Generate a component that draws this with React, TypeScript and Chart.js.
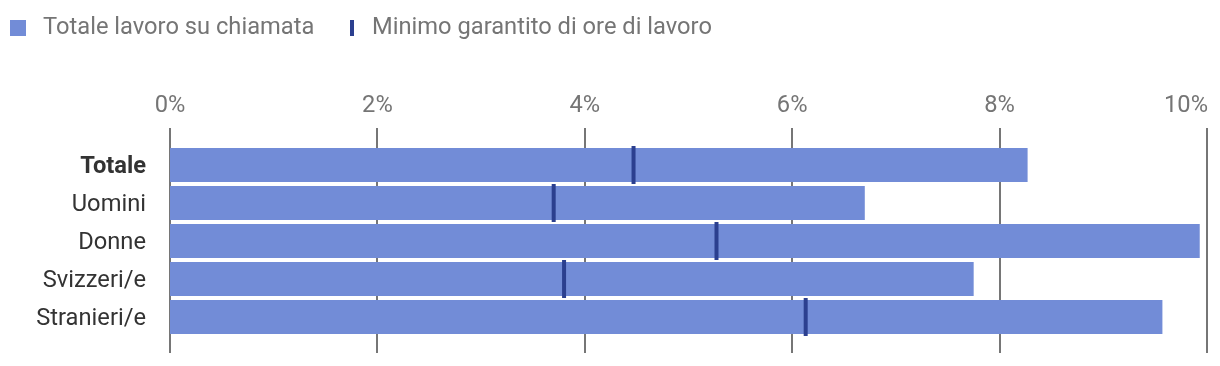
import React, { useEffect, useRef } from "react";
import { Chart, registerables } from "chart.js";

Chart.register(...registerables);

const categories = ["Totale", "Uomini", "Donne", "Svizzeri/e", "Stranieri/e"];
const totalValues = [8.27, 6.7, 9.93, 7.75, 9.57];
const minimumValues = [4.47, 3.7, 5.27, 3.8, 6.13];
const xTickValues = [0, 2, 4, 6, 8, 10];
const xTickLabels = ["0%", "2%", "4%", "6%", "8%", "10%"];
const seriesNames = ["Totale lavoro su chiamata", "Minimo garantito di ore di lavoro"];

const BAR_COLOR = "#728CD7";
const MARK_COLOR = "#2B3F8F";
const GRID_COLOR = "#767676";
const MUTED_TEXT = "#757575";
const DARK_TEXT = "#333333";
const FONT = "Roboto";
const FONT_SIZE = 23.7;

const gridPlugin = {
  id: "customGrid",
  beforeDatasetsDraw(chart: any) {
    const { ctx, chartArea, scales } = chart;
    const x = scales.x;
    ctx.save();
    ctx.strokeStyle = GRID_COLOR;
    ctx.lineWidth = 2;
    xTickValues.forEach((v) => {
      const px = Math.round(x.getPixelForValue(v));
      ctx.beginPath();
      ctx.moveTo(px, chartArea.top - 18);
      ctx.lineTo(px, chartArea.bottom + 17);
      ctx.stroke();
    });
    ctx.font = `${FONT_SIZE}px ${FONT}`;
    ctx.fillStyle = MUTED_TEXT;
    ctx.textBaseline = "alphabetic";
    xTickValues.forEach((v, i) => {
      const px = x.getPixelForValue(v);
      const label = xTickLabels[i];
      const w = ctx.measureText(label).width;
      if (px + w / 2 > chart.width - 4) {
        ctx.textAlign = "right";
        ctx.fillText(label, px + 1, chartArea.top - 34);
      } else {
        ctx.textAlign = "center";
        ctx.fillText(label, px, chartArea.top - 34);
      }
    });
    ctx.restore();
  },
};

export default function App() {
  const canvasRef = useRef<HTMLCanvasElement | null>(null);

  useEffect(() => {
    const canvas = canvasRef.current;
    if (!canvas) return;
    const chart = new Chart(canvas, {
      type: "bar",
      data: {
        labels: categories,
        datasets: [
          {
            type: "scatter",
            label: seriesNames[1],
            data: minimumValues.map((v, i) => ({ x: v, y: categories[i] })) as any,
            pointStyle: "line",
            rotation: 90,
            radius: 19,
            hoverRadius: 19,
            borderWidth: 4,
            hoverBorderWidth: 4,
            borderColor: MARK_COLOR,
            backgroundColor: MARK_COLOR,
            clip: false,
            order: 0,
          } as any,
          {
            type: "bar",
            label: seriesNames[0],
            data: totalValues,
            backgroundColor: BAR_COLOR,
            hoverBackgroundColor: BAR_COLOR,
            borderWidth: 0,
            barPercentage: 34 / 38,
            categoryPercentage: 1,
            order: 1,
          },
        ],
      },
      options: {
        indexAxis: "y",
        animation: false,
        responsive: false,
        maintainAspectRatio: false,
        layout: { autoPadding: false, padding: { top: 146, bottom: 30, left: 0, right: 13 } },
        plugins: {
          legend: { display: false },
          tooltip: { enabled: false },
        },
        scales: {
          x: {
            type: "linear",
            min: 0,
            max: 10,
            display: false,
          },
          y: {
            type: "category",
            labels: categories,
            offset: true,
            grid: { display: false, drawTicks: false },
            border: { display: false },
            ticks: {
              padding: 24,
              labelOffset: 2,
              color: DARK_TEXT,
              font: (c: any) => ({
                family: FONT,
                size: FONT_SIZE,
                weight: c.index === 0 ? "bold" : "normal",
              }),
            },
            afterFit: (scale: any) => {
              scale.width = 170;
              scale.paddingTop = 0;
              scale.paddingBottom = 0;
            },
          },
        },
      },
      plugins: [gridPlugin],
    });
    return () => chart.destroy();
  }, []);

  const legendText: React.CSSProperties = {
    position: "absolute",
    top: 13,
    fontFamily: FONT,
    fontSize: FONT_SIZE,
    lineHeight: "26px",
    color: MUTED_TEXT,
    whiteSpace: "nowrap",
  };

  return (
    <div style={{ position: "fixed", left: 0, top: 0, width: 1220, height: 366, overflow: "hidden", background: "#fff" }}>
      <div style={{ position: "absolute", left: 10, top: 20, width: 16, height: 16, background: BAR_COLOR }} />
      <div style={{ ...legendText, left: 43 }}>{seriesNames[0]}</div>
      <div style={{ position: "absolute", left: 350, top: 20, width: 4, height: 16, background: MARK_COLOR }} />
      <div style={{ ...legendText, left: 372 }}>{seriesNames[1]}</div>
      <canvas ref={canvasRef} width={1220} height={366} style={{ display: "block" }} />
    </div>
  );
}
